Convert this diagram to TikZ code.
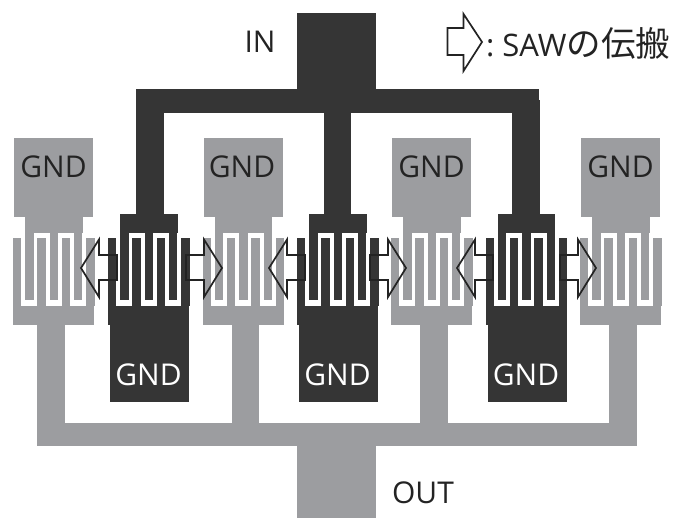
\documentclass[tikz,border=0pt]{standalone}
\usepackage{fontspec}
\setsansfont{Open Sans}
\newfontfamily\cjkfont{Noto Sans CJK JP}
\definecolor{padgray}{HTML}{9C9DA0}
\definecolor{paddark}{HTML}{353535}
\definecolor{arrowline}{HTML}{232323}
% #1 left edge, #2 top of the upper bar
\newcommand{\idtcomb}[2]{
	\fill (#1+12.2,#2) rectangle (#1+69.6,233.5);
	\fill (#1,305.5) rectangle (#1+81,325);
	\foreach \f in {0,2,4,6} {
			\fill (#1+\f*12.2,238) rectangle (#1+\f*12.2+8.4,306);
		}
	\foreach \f in {1,3,5} {
			\fill (#1+\f*12.2,233) rectangle (#1+\f*12.2+8.4,300);
		}
}
\begin{document}
\begin{tikzpicture}[
		x=1pt,y=-1pt,
		font=\sffamily,
		every node/.style={
				font=\sffamily\fontsize{30}{30}\selectfont,
			},
		saw/.style={arrowline,line width=1.7pt,line join=miter},
	]
	\useasboundingbox (0,0) rectangle (676,518);
	% input side
	\begin{scope}[fill=paddark]
		\fill (297,13) rectangle (376,90);
		\fill (136,89) rectangle (539,113);
		\foreach \x/\l in {108/136,297/323.5,485.5/512} {
				\fill (\l,100) rectangle (\l+27.5,215);
				\idtcomb{\x}{214}
				\fill (\x+2,324) rectangle (\x+81,402);
			}
	\end{scope}
	% output side
	\begin{scope}[fill=padgray]
		\foreach \x/\l in {13/37,202.5/231.5,391/420,580/609} {
				\fill (\x+1,138.5) rectangle (\x+80,217);
				\idtcomb{\x}{216}
				\fill (\l,324) rectangle (\l+27.5,430);
			}
		\fill (37,423) rectangle (637,446);
		\fill (297,440) rectangle (376,518);
	\end{scope}
	% propagation arrows
	\foreach \tipl/\tipr in {81/222,269/406,457/596} {
			\draw [saw] (\tipl,268) -- (\tipl+18,239.5) -- (\tipl+18,255) -- (\tipl+36,255) -- (\tipl+36,280)
			-- (\tipl+18,280) -- (\tipl+18,297) -- cycle;
			\draw [saw] (\tipr,268) -- (\tipr-18,239.5) -- (\tipr-18,255) -- (\tipr-36,255) -- (\tipr-36,280)
			-- (\tipr-18,280) -- (\tipr-18,297) -- cycle;
		}
	\draw [saw] (482,42) -- (463.5,14) -- (463.5,28) -- (447.5,28) -- (447.5,55) -- (463.5,55) -- (463.5,71) -- cycle;
	% labels
	\node [arrowline] (gnda) at (53.5,167) {GND};
	\node [arrowline] (gndb) at (242,167) {GND};
	\node [arrowline] (gndc) at (431.5,167) {GND};
	\node [arrowline] (gndd) at (620.5,167) {GND};
	\node [white] (gnde) at (148.5,375) {GND};
	\node [white] (gndf) at (337.5,375) {GND};
	\node [white] (gndg) at (526,375) {GND};
	\node [arrowline] (in) at (260,42) {IN};
	\node [arrowline] (out) at (423,493) {OUT};
	\node [arrowline,anchor=west,inner sep=0pt,font=\sffamily\fontsize{31}{31}\selectfont] (legend) at (486,43)
	{:\hspace{8pt}SAW{\cjkfont\fontsize{34.5}{34.5}\selectfont の伝搬}};
\end{tikzpicture}
\end{document}
